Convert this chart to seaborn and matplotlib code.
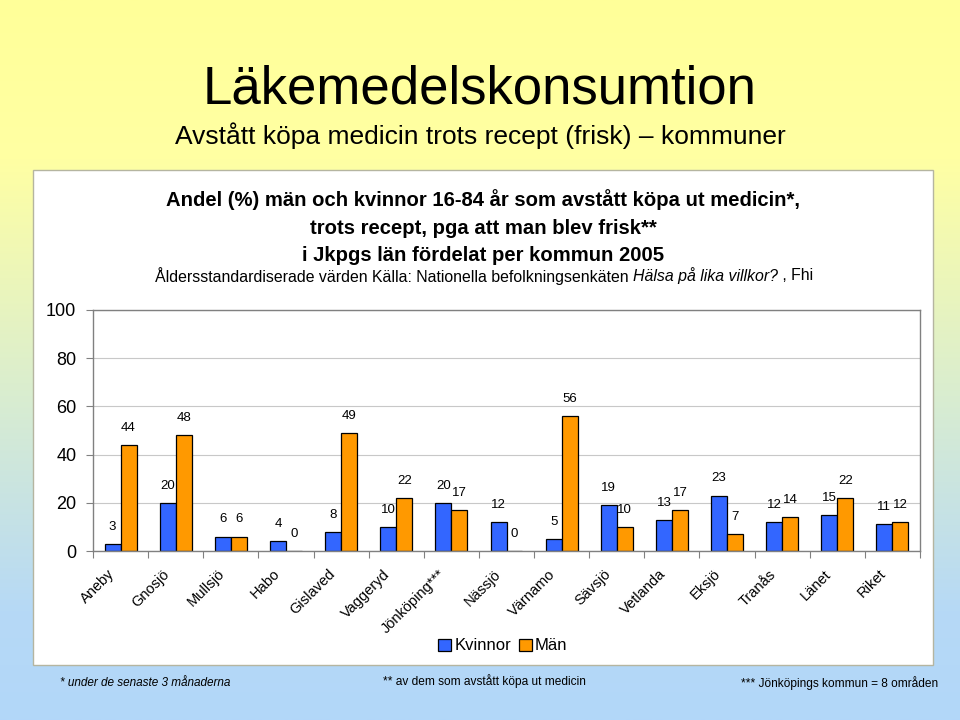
import numpy as np
import pandas as pd
import matplotlib
matplotlib.use('Agg')
import matplotlib.pyplot as plt
import seaborn as sns
from matplotlib.colors import LinearSegmentedColormap
from matplotlib.patches import Rectangle
from matplotlib.transforms import ScaledTranslation

sns.set_style('white')
plt.rcParams['font.family'] = ['Liberation Sans', 'DejaVu Sans']
plt.rcParams['text.color'] = 'black'
plt.rcParams['xtick.color'] = 'black'
plt.rcParams['ytick.color'] = 'black'
plt.rcParams['axes.labelcolor'] = 'black'

# data
kommuner = ['Aneby', 'Gnosjö', 'Mullsjö', 'Habo', 'Gislaved', 'Vaggeryd', 'Jönköping***',
            'Nässjö', 'Värnamo', 'Sävsjö', 'Vetlanda', 'Eksjö', 'Tranås', 'Länet', 'Riket']
kvinnor = [3, 20, 6, 4, 8, 10, 20, 12, 5, 19, 13, 23, 12, 15, 11]
man = [44, 48, 6, 0, 49, 22, 17, 0, 56, 10, 17, 7, 14, 22, 12]

df = pd.DataFrame({'kommun': kommuner * 2,
                   'kon': ['Kvinnor'] * len(kommuner) + ['Män'] * len(kommuner),
                   'andel': kvinnor + man})

fig = plt.figure(figsize=(9.6, 7.2), dpi=100)

# bakgrund med gradient
bg = fig.add_axes([0, 0, 1, 1], zorder=0)
cmap = LinearSegmentedColormap.from_list('bg', [(0, '#FFFF99'), (0.22, '#FFFFA3'),
                                                (0.55, '#D9EDD0'), (0.85, '#B6D9F6'),
                                                (1, '#B2D7F9')])
grad = np.linspace(0, 1, 256).reshape(-1, 1)
bg.imshow(grad, aspect='auto', cmap=cmap, extent=[0, 1, 0, 1], origin='upper')
bg.set_xlim(0, 1)
bg.set_ylim(0, 1)
bg.axis('off')
bg.add_patch(Rectangle((33 / 960, 1 - 665 / 720), 900 / 960, 495 / 720,
                       facecolor='white', edgecolor='#B5B5A0', linewidth=1))

ax = fig.add_axes([93 / 960, 1 - 551 / 720, 827 / 960, 241 / 720], zorder=2)
ax.set_facecolor('white')
sns.barplot(data=df, x='kommun', y='andel', hue='kon', palette=['#3366FF', '#FF9900'],
            width=0.58, edgecolor='black', linewidth=0.9, saturation=1, ax=ax, legend=True)

for c in ax.containers:
    ax.bar_label(c, fmt='%d', padding=8, fontsize=9.5)

ax.set_ylim(0, 100)
ax.set_xlim(-0.5, len(kommuner) - 0.5)
ax.set_yticks([0, 20, 40, 60, 80, 100])
ax.yaxis.grid(True, color='#C8C8C8', linewidth=0.8)
ax.set_axisbelow(True)
ax.tick_params(axis='y', labelsize=13, length=5, width=0.8, color='#808080', pad=7, left=True)
ax.tick_params(axis='x', which='major', length=0, labelsize=10.5, pad=15)
ax.set_xticks(np.arange(-0.5, len(kommuner), 1), minor=True)
ax.tick_params(axis='x', which='minor', length=5, width=0.8, color='#808080', bottom=True)
forskj = ScaledTranslation(-6 / 72, 0, fig.dpi_scale_trans)
for lab in ax.get_xticklabels():
    lab.set_rotation(45)
    lab.set_ha('right')
    lab.set_va('center')
    lab.set_rotation_mode('anchor')
    lab.set_transform(lab.get_transform() + forskj)
ax.set_xlabel('')
ax.set_ylabel('')
for s in ax.spines.values():
    s.set_color('#808080')
    s.set_linewidth(1)

ax.legend(loc='center', bbox_to_anchor=(503 / 960, 1 - 646 / 720), bbox_transform=fig.transFigure,
          ncol=2, frameon=False, fontsize=12, handlelength=0.75, handleheight=0.75,
          handletextpad=0.2, columnspacing=0.5, borderpad=0)

# rubriker
fig.text(0.5, 1 - 90 / 720, 'Läkemedelskonsumtion', ha='center', va='center', fontsize=38)
fig.text(0.5, 1 - 136 / 720, 'Avstått köpa medicin trots recept (frisk) – kommuner',
         ha='center', va='center', fontsize=19)
fig.text(0.503, 1 - 200 / 720, 'Andel (%) män och kvinnor 16-84 år som avstått köpa ut medicin*,',
         ha='center', va='center', fontsize=14.6, fontweight='bold')
fig.text(0.503, 1 - 228 / 720, 'trots recept, pga att man blev frisk**',
         ha='center', va='center', fontsize=14.6, fontweight='bold')
fig.text(0.503, 1 - 255 / 720, 'i Jkpgs län fördelat per kommun 2005',
         ha='center', va='center', fontsize=14.6, fontweight='bold')

# källrad med kursiv del
delar = [('Åldersstandardiserade värden Källa: Nationella befolkningsenkäten ', 'normal'),
         ('Hälsa på lika villkor?', 'italic'),
         (' , Fhi', 'normal')]
fig.canvas.draw()
r = fig.canvas.get_renderer()
txts = []
for s, st in delar:
    t = fig.text(0, 1 - 276 / 720, s, ha='left', va='center', fontsize=11.4, style=st)
    txts.append(t)
widths = [t.get_window_extent(r).width for t in txts]
x0 = 484 - sum(widths) / 2
for t, w in zip(txts, widths):
    t.set_x(x0 / 960)
    x0 += w

# fotnoter
fig.text(60 / 960, 1 - 683 / 720, '* under de senaste 3 månaderna', ha='left', va='center',
         fontsize=8.5, style='italic')
fig.text(383 / 960, 1 - 681 / 720, '** av dem som avstått köpa ut medicin', ha='left', va='center',
         fontsize=8.6)
fig.text(938 / 960, 1 - 683 / 720, '*** Jönköpings kommun = 8 områden', ha='right', va='center',
         fontsize=8.6)

fig.savefig('out.png', dpi=100)
